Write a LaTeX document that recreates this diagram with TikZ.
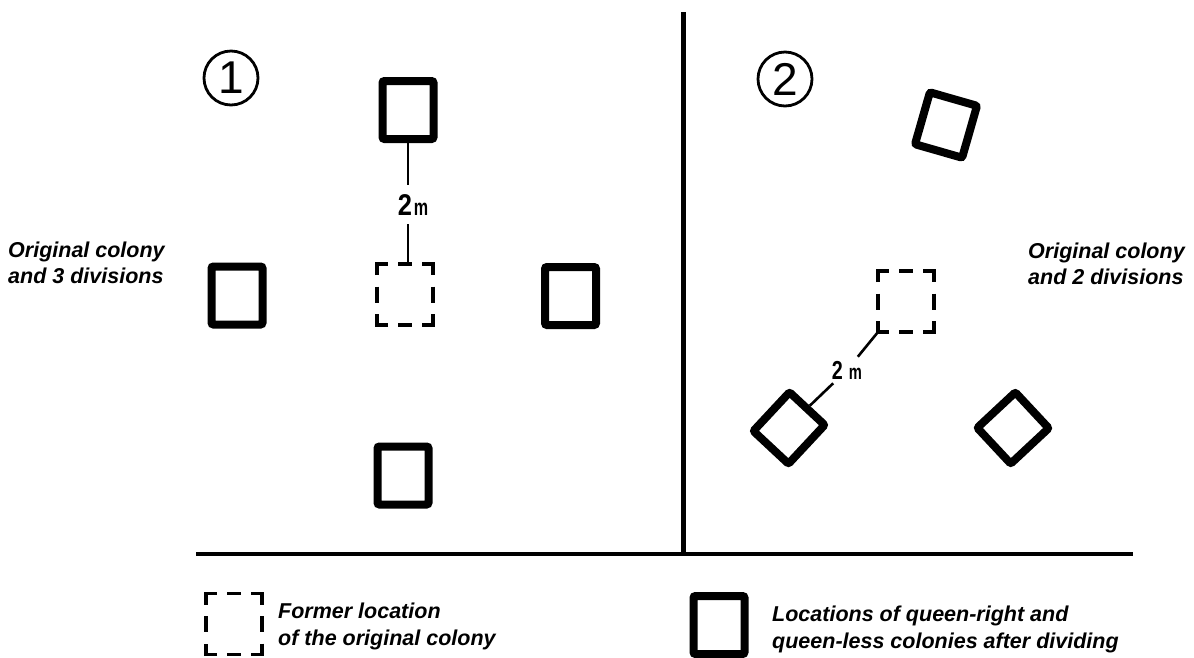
\documentclass[tikz,border=0pt]{standalone}
\usepackage{fontspec}
\newfontfamily\hv{Liberation Sans}
\begin{document}
\begin{tikzpicture}[x=1pt,y=-1pt,
  colony/.style={rectangle, draw, line width=8pt, rounded corners=2pt, minimum width=51pt, minimum height=58pt, inner sep=0pt},
  former/.style={rectangle, minimum width=56pt, minimum height=61pt, inner sep=0pt, outer sep=0pt},
  link/.style={line width=2.6pt},
  rule/.style={line width=4.6pt},
  num/.style={circle, draw, line width=2.8pt, minimum size=54pt, inner sep=0pt, font=\hv\fontsize{46}{46}\selectfont},
  captext/.style={align=left, font=\hv\bfseries\itshape\fontsize{21.5}{26}\selectfont, inner sep=0pt, anchor=base west},
  legtext/.style={captext, font=\hv\bfseries\itshape\fontsize{21.5}{27}\selectfont},
  dist/.style={inner sep=0pt, font=\hv\bfseries},
  pics/dashbox/.style={code={
    \draw[line width=3.8pt]
      (-28,-19.5) -- (-28,-30.5) -- (-17,-30.5)
      (17,-30.5) -- (28,-30.5) -- (28,-19.5)
      (28,19.5) -- (28,30.5) -- (17,30.5)
      (-17,30.5) -- (-28,30.5) -- (-28,19.5)
      (-7,-30.5) -- (7,-30.5)
      (-7,30.5) -- (7,30.5)
      (-28,-8) -- (-28,8)
      (28,-8) -- (28,8);
  }}
]
\useasboundingbox (0,0) rectangle (1194,657);

% frame lines
\coordinate (vtop) at (683.5,12);
\coordinate (vbot) at (683.5,554);
\coordinate (hl) at (196,554);
\coordinate (hr) at (1133,554);
\draw[rule] (vtop) -- (vbot);
\draw[rule] (hl) -- (hr);

% panel numbers
\node[num] (n1) at (231,78) {1};
\node[num] (n2) at (785,79) {2};

% panel 1
\node[colony] (t1) at (408,110) {};
\node[former] (d1) at (405,294.5) {};
\pic at (d1) {dashbox};
\node[colony] (w1) at (237,295.5) {};
\node[colony] (e1) at (570.5,296) {};
\node[colony] (s1) at (403,475.5) {};
\node[dist, inner ysep=9pt, anchor=base] (m1) at (413,215)
  {\scalebox{0.85}[1]{\fontsize{30}{30}\selectfont 2}\,\scalebox{0.7}[1]{\fontsize{23}{23}\selectfont m}};
\draw[link] (t1.south) -- (t1.south |- m1.north);
\draw[link] (t1.south |- m1.south) -- (t1.south |- d1.north);

\node[captext] (c1) at (8,283) {Original colony\\and 3 divisions};

% panel 2
\node[colony, minimum width=49pt, minimum height=54pt, rotate=-16] (t2) at (946,125) {};
\node[former] (d2) at (906,301.5) {};
\pic at (d2) {dashbox};
\node[colony, minimum width=48pt, minimum height=53pt, rotate=-43] (l2) at (789,428) {};
\node[colony, minimum width=49pt, minimum height=52pt, rotate=-47] (r2) at (1013,428) {};
\node[dist, inner sep=4pt] (m2) at (847,370)
  {\scalebox{0.76}[1]{\fontsize{26}{26}\selectfont 2}\hspace{6pt}\scalebox{0.7}[1]{\fontsize{21}{21}\selectfont m}};
\draw[link] (d2.south west) -- (m2);
\draw[link] (m2) -- (l2.north);

\node[captext] (c2) at (1028,284) {Original colony\\and 2 divisions};

% legend
\node[former] (ld) at (234,624) {};
\pic at (ld) {dashbox};
\node[legtext] (lt1) at (278,645) {Former location\\of the original colony};
\node[colony] (ls) at (719,625) {};
\node[legtext] (lt2) at (772,648) {Locations of queen-right and\\queen-less colonies after dividing};
\end{tikzpicture}
\end{document}
